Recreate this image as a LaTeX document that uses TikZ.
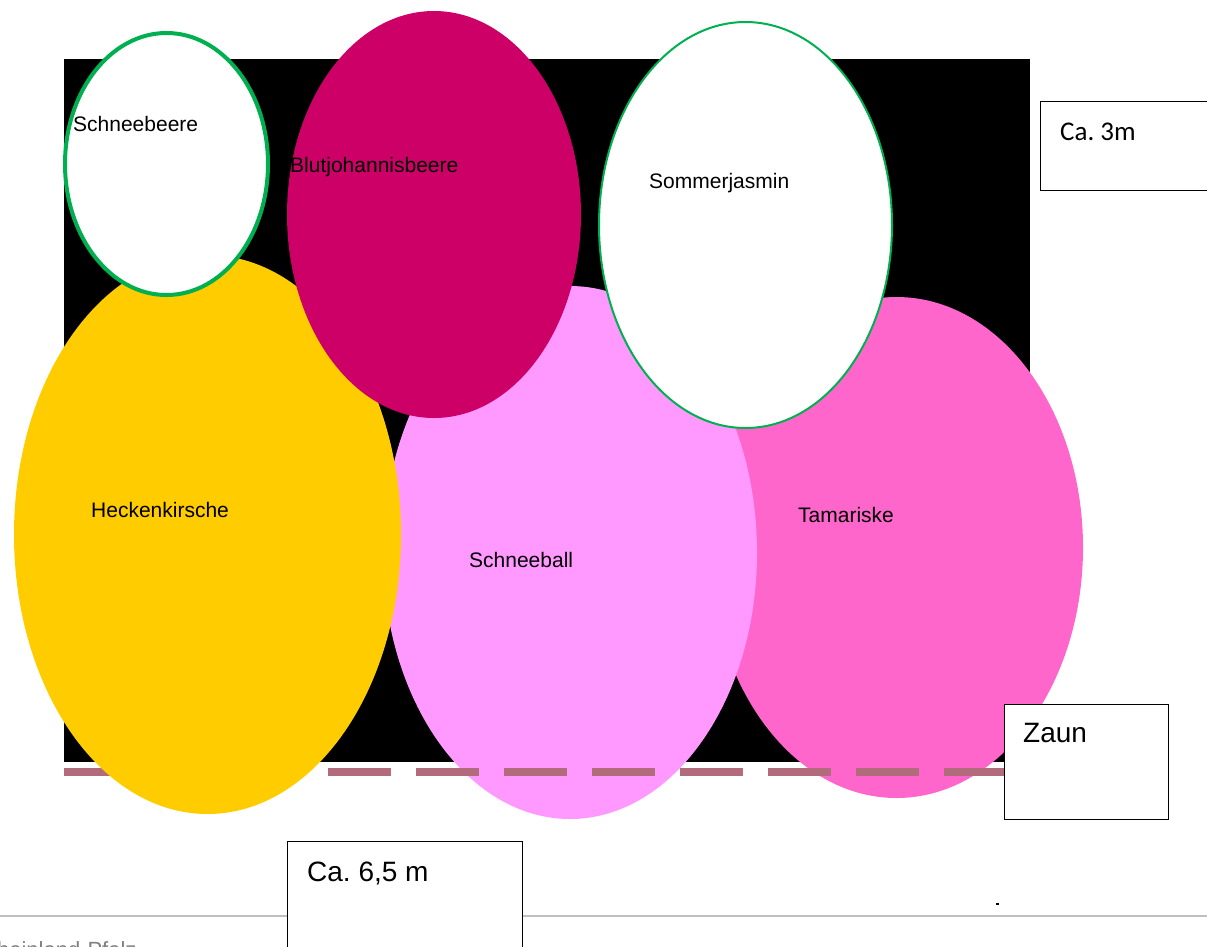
\documentclass[tikz,border=0pt]{standalone}
\usepackage{fontspec}
\setmainfont{Liberation Sans}
\newfontfamily\calibri{Carlito}
\usetikzlibrary{shapes.geometric}
\frenchspacing
\definecolor{cyellow}{HTML}{FFCC00}
\definecolor{clpink}{HTML}{FF99FF}
\definecolor{chpink}{HTML}{FF66CC}
\definecolor{cmag}{HTML}{CC0066}
\definecolor{cgreen}{HTML}{00B050}
\definecolor{cfence}{HTML}{B26B7A}
\definecolor{cgrayline}{HTML}{BFBFBF}
\definecolor{cgraytext}{HTML}{7F7F7F}
\tikzset{
  shrub/.style={ellipse, inner sep=0pt, outer sep=0pt},
  plabel/.style={anchor=base west, inner sep=0pt, font=\fontsize{21}{25}\selectfont},
  boxlabel/.style={anchor=base west, inner sep=0pt, font=\fontsize{28}{32}\selectfont},
  textbox/.style={draw=black, line width=1pt, fill=white},
}
\begin{document}
\begin{tikzpicture}[x=1pt,y=-1pt]
\useasboundingbox (0,0) rectangle (1207,946);
\clip (0,0) rectangle (1207,946);
% background bed
\fill[black] (64,59) rectangle (1030,762);
% gray footer line
\draw[cgrayline, line width=2pt] (0,916) -- (1207,916);
% shrubs
\node[shrub, fill=chpink, minimum width=373pt, minimum height=501pt] (tam) at (896.5,547.5) {};
\node[shrub, fill=clpink, minimum width=374pt, minimum height=533pt] (sball) at (570,552.5) {};
% fence
\coordinate (f1) at (64,772);
\coordinate (f2) at (1008,772);
\draw[cfence, line width=7.7pt, dash pattern=on 63pt off 25pt] (f1) -- (f2);
\node[shrub, fill=cyellow, minimum width=387pt, minimum height=559pt] (heck) at (207.5,534.5) {};
\node[shrub, fill=cmag, minimum width=294pt, minimum height=407pt] (blut) at (434,214.5) {};
\node[shrub, fill=white, draw=cgreen, line width=4pt, minimum width=203pt, minimum height=262pt] (sbeere) at (166.5,164) {};
\node[shrub, fill=white, draw=cgreen, line width=2pt, minimum width=293pt, minimum height=406pt] (sjas) at (745.5,225) {};
% labels
\node[plabel] (lsbeere) at (73,131) {Schneebeere};
\node[plabel] (lblut) at (290,172) {Blutjohannisbeere};
\node[plabel] (lsjas) at (649,188) {Sommerjasmin};
\node[plabel] (lheck) at (91,517) {Heckenkirsche};
\node[plabel] (lsball) at (469,567) {Schneeball};
\node[plabel] (ltam) at (798,522) {Tamariske};
% text boxes
\draw[textbox] (1040,101) rectangle (1220,190);
\node[anchor=base west, inner sep=0pt, font=\calibri\fontsize{27}{31}\selectfont] (l3m) at (1060,140) {Ca. 3m};
\draw[textbox] (1004,704) rectangle (1168,819);
\node[boxlabel] (lzaun) at (1023,742) {Zaun};
\draw[textbox] (287,841) rectangle (522,960);
\node[boxlabel] (l65) at (307,881) {Ca. 6,5 m};
% small dot
\fill[black] (996,902.5) rectangle (998.5,905);
% footer text
\node[anchor=base west, inner sep=0pt, text=cgraytext, font=\fontsize{22}{26}\selectfont] (foot) at (-19,957) {Rheinland-Pfalz};
\end{tikzpicture}
\end{document}
